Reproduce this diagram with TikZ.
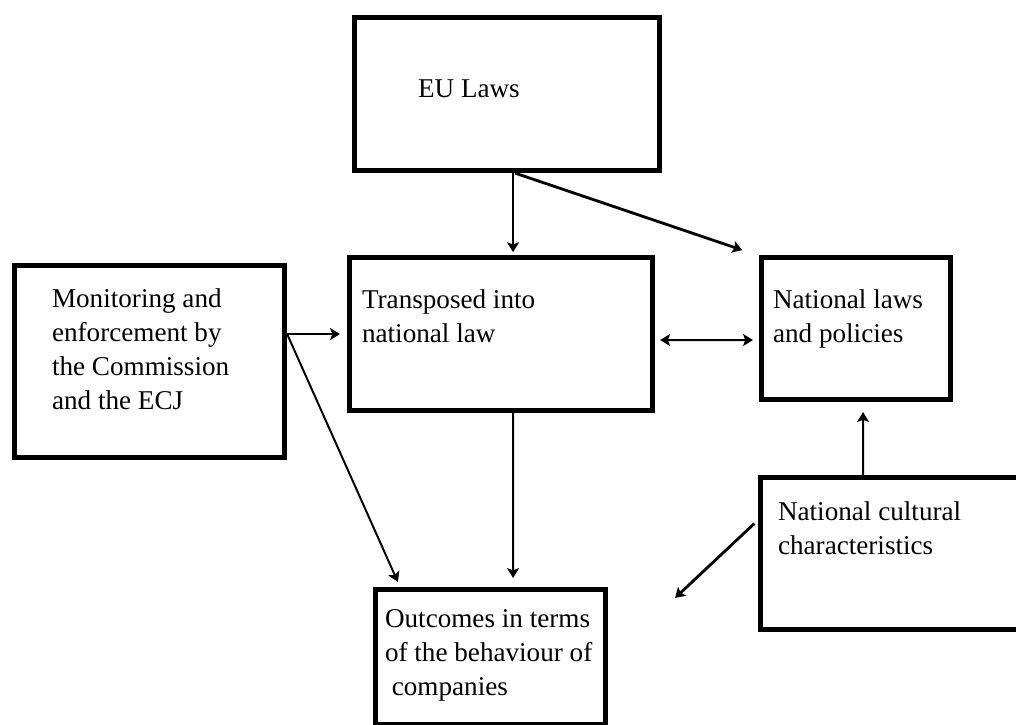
\documentclass[tikz,border=0pt]{standalone}
\usepackage{fontspec}
\setmainfont{Liberation Serif}
\usetikzlibrary{arrows.meta,positioning}

\begin{document}
\begin{tikzpicture}[x=0.025cm, y=-0.025cm, ->, >={Stealth[length=7pt,width=8.5pt,inset=1.5pt]},
shorten >=2pt, line width=1.4pt,
box/.style={draw, rectangle, line width=3.6pt, anchor=north west, inner ysep=0pt,
  align=flush left, font=\fontsize{19.3pt}{24.2pt}\selectfont}]

\useasboundingbox (0,0) rectangle (1016,724);

\node [box, text width=4.45cm, inner xsep=1.5875cm, text height=1.9875cm, text depth=1.8375cm]
  (eu) at (352,15) {EU Laws};
\node [box, text width=4.875cm, inner xsep=0.9375cm, text height=1.0375cm, text depth=3.7625cm]
  (monitor) at (12,263) {Monitoring and\\enforcement by\\the Commission\\and the ECJ};
\node [box, text width=6.95cm, inner xsep=0.3125cm, text height=1.2625cm, text depth=2.5625cm]
  (trans) at (347,255) {Transposed into\\national law};
\node [box, text width=4.15cm, inner xsep=0.2875cm, text height=1.2625cm, text depth=2.2875cm]
  (natlaw) at (759,255) {National laws\\and policies};
\node [box, text width=5.675cm, inner xsep=0.4375cm, text height=1.0625cm, text depth=2.7375cm]
  (culture) at (758,475) {National cultural\\characteristics};
\node [box, text width=5.275cm, inner xsep=0.2375cm, text height=0.9375cm, text depth=2.4375cm]
  (outcome) at (373,587) {Outcomes~in~terms\\of~the~behaviour~of\\\hspace*{0.25em}companies};
\coordinate (drift) at (675,598);

\path ([shift={(6,0)}]eu.south) edge ([shift={(12,0)}]trans.north);
\path ([shift={(8,0)}]eu.south) edge [line width=2pt] ([shift={(-14,-4)}]natlaw.north west);

\path (monitor.east |- trans.west) edge [shorten >=5pt] (trans.west);
\path (monitor.east |- trans.west) edge ([shift={(26,-2.5)}]outcome.north west);

\path ([shift={(12,0)}]trans.south) edge [shorten >=6.4pt] ([shift={(22.5,0)}]outcome.north);
\path ([shift={(0,6)}]trans.east) edge [<->, shorten <=3.6pt, shorten >=4.3pt] ([shift={(0,11.5)}]natlaw.west);

\path ([shift={(-28.5,0)}]culture.north) edge [shorten >=7.1pt] ([shift={(7,0)}]natlaw.south);
\path ([shift={(0,-33.5)}]culture.west) edge [line width=2pt, shorten <=3.6pt, shorten >=0pt] (drift);

\end{tikzpicture}
\end{document}
